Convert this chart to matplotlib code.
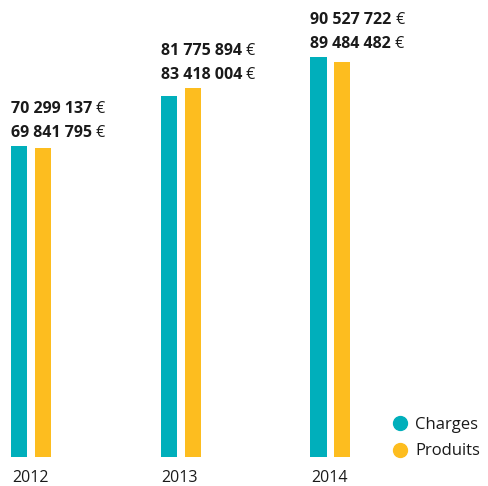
import matplotlib.pyplot as plt
from matplotlib.lines import Line2D

plt.rcParams["font.family"] = ["Open Sans", "DejaVu Sans"]

years = ["2012", "2013", "2014"]
charges = [70299137, 81775894, 90527722]
produits = [69841795, 83418004, 89484482]
charges_txt = ["70 299 137", "81 775 894", "90 527 722"]
produits_txt = ["69 841 795", "83 418 004", "89 484 482"]

teal = "#00AFBB"
yellow = "#FDBD1F"
ink = "#1a1a1a"

fig = plt.figure(figsize=(4.88, 4.86), dpi=100)
ax = fig.add_axes([0, 29 / 486, 1, 1 - 29 / 486])
ax.axis("off")

w = 0.107
off = 0.08
xs = list(range(len(years)))
ax.bar([x - off for x in xs], charges, width=w, color=teal)
ax.bar([x + off for x in xs], produits, width=w, color=yellow)

ax.set_xlim(-0.207, 3.052)
ymax = 457 / 4.418 * 1e6
ax.set_ylim(0, ymax)

px = ymax / 457  # data units per pixel
for i, x in enumerate(xs):
    left = x - off - w / 2
    top = max(charges[i], produits[i])
    for txt, dy in [(produits_txt[i], 5), (charges_txt[i], 29)]:
        t = ax.text(left, top + dy * px, txt, fontsize=11.5, fontweight="bold",
                    color=ink, ha="left", va="bottom")
        ax.annotate(" €", xy=(1, 0), xycoords=t, fontsize=11.5,
                    color=ink, ha="left", va="bottom")
    ax.text(left + 0.005, -21 * px, years[i], fontsize=11.5, color=ink,
            ha="left", va="center")

handles = [
    Line2D([], [], marker="o", linestyle="", markersize=10, color=teal, label="Charges"),
    Line2D([], [], marker="o", linestyle="", markersize=10, color=yellow, label="Produits"),
]
leg = fig.legend(handles=handles, loc="lower right", bbox_to_anchor=(0.997, 20 / 486),
                 frameon=False, fontsize=12, handletextpad=0.4, labelspacing=0.65,
                 borderaxespad=0, handlelength=1.0)
for t in leg.get_texts():
    t.set_color(ink)

fig.savefig("out.png", dpi=100)
